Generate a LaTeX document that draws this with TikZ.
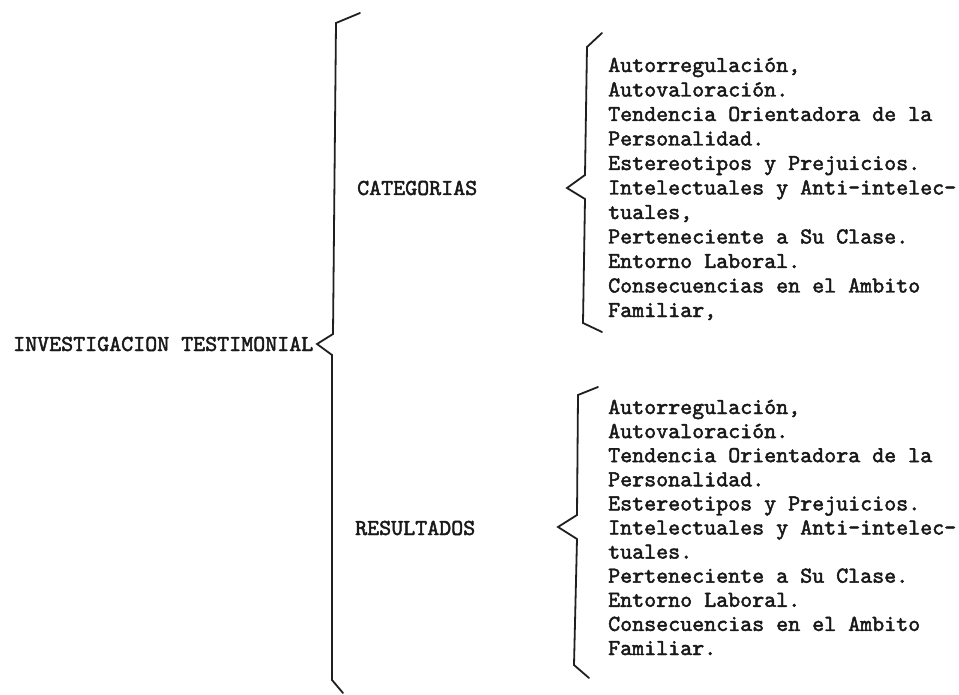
\documentclass[tikz,border=0pt]{standalone}
\usepackage{fontspec}
\newfontfamily\typew{lmmono10-regular.otf}[FakeBold=2]
\begin{document}
\begin{tikzpicture}[x=1pt,y=-1pt]
\tikzset{
  txt/.style={anchor=base west, inner sep=0pt, text=black!90,
    font=\typew\bfseries\fontsize{22.86}{24}\selectfont},
  brace/.style={line width=1.8pt, line join=miter, line cap=round, draw=black!88},
}
\useasboundingbox[fill=white] (0,0) rectangle (959,695);

% labels
\node[txt] (main) at (13,351) {INVESTIGACION TESTIMONIAL};
\node[txt] (cat) at (357,195) {CATEGORIAS};
\node[txt] (res) at (355,535) {RESULTADOS};

% first list
\foreach \t [count=\i from 0] in {{Autorregulación,},{Autovaloración.},{Tendencia Orientadora de la},{Personalidad.},{Estereotipos y Prejuicios.},{Intelectuales y Anti-intelec-},{tuales,},{Perteneciente a Su Clase.},{Entorno Laboral.},{Consecuencias en el Ambito},{Familiar,}}
  \node[txt] (c\i) at (608,72+24.5*\i) {\t};

% second list
\foreach \t [count=\i from 0] in {{Autorregulación,},{Autovaloración.},{Tendencia Orientadora de la},{Personalidad.},{Estereotipos y Prejuicios.},{Intelectuales y Anti-intelec-},{tuales.},{Perteneciente a Su Clase.},{Entorno Laboral.},{Consecuencias en el Ambito},{Familiar.}}
  \node[txt] (r\i) at (608,414+24.1*\i) {\t};

% main brace
\coordinate (mTop) at (360,13);
\coordinate (mTip) at (317,344);
\coordinate (mBot) at (343,693);
\draw[brace] (mTop) -- (336,23) -- (333,334) -- (mTip) -- (332,355) -- (332,680) -- (mBot);

% categorias brace
\coordinate (cTop) at (602,33);
\coordinate (cTip) at (567,188);
\coordinate (cBot) at (602,332);
\draw[brace] (cTop) -- (587,47) -- (585,175) -- (cTip) -- (585,199) -- (583,323) -- (cBot);

% resultados brace
\coordinate (rTop) at (598,387);
\coordinate (rTip) at (558,527);
\coordinate (rBot) at (589,678);
\draw[brace] (rTop) -- (578,395) -- (577,515) -- (rTip) -- (577,539) -- (574,665) -- (rBot);
\end{tikzpicture}
\end{document}
